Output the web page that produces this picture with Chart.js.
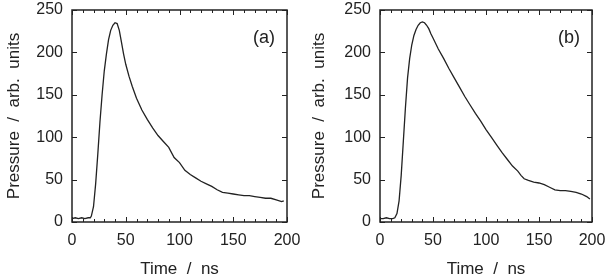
<!DOCTYPE html>
<html>
<head>
<meta charset="utf-8">
<script src="https://cdn.jsdelivr.net/npm/chart.js@4"></script>
<style>
  body { margin: 0; background: #fff; }
  #wrap { width: 610px; height: 278px; display: flex; }
  .panel { position: relative; width: 305px; height: 278px; }
</style>
</head>
<body>
<div id="wrap">
  <div class="panel"><canvas id="chartA" width="305" height="278"></canvas></div>
  <div class="panel"><canvas id="chartB" width="305" height="278"></canvas></div>
</div>
<script>
// panel (a)
const timeA = [0, 3, 6, 9, 12, 15, 17, 18, 20, 22, 24, 26, 28, 30, 32, 34, 36, 38, 40, 42, 44, 46, 48, 50, 53, 56, 60, 65, 70, 75, 80, 85, 90, 95, 100, 105, 110, 115, 120, 125, 130, 135, 140, 145, 150, 155, 160, 165, 170, 175, 180, 185, 190, 195, 197];
const pressureA = [4, 5, 4, 5, 4, 5, 5, 7, 18, 45, 80, 118, 150, 178, 198, 215, 226, 232, 235, 234, 226, 212, 198, 186, 172, 160, 146, 132, 121, 111, 102, 95, 88, 76, 70, 61, 56, 52, 48, 45, 42, 38, 35, 34, 33, 32, 31, 31, 30, 29, 28, 28, 26, 24, 25];

// panel (b)
const timeB = [0, 3, 6, 9, 12, 14, 16, 18, 20, 22, 24, 26, 28, 30, 32, 34, 36, 38, 40, 42, 44, 46, 48, 50, 55, 60, 65, 70, 75, 80, 85, 90, 95, 100, 105, 110, 115, 120, 125, 130, 133, 136, 140, 145, 150, 155, 160, 165, 170, 175, 180, 185, 190, 195, 198];
const pressureB = [4, 4, 5, 4, 4, 5, 10, 25, 55, 95, 135, 170, 193, 209, 220, 227, 232, 235, 236, 235, 232, 228, 222, 217, 204, 193, 181, 170, 159, 148, 138, 128, 119, 109, 100, 91, 82, 74, 66, 60, 55, 51, 49, 47, 46, 44, 41, 38, 37, 37, 36, 35, 33, 30, 27];

const xTicks = [0, 50, 100, 150, 200];
const yTicks = [0, 50, 100, 150, 200, 250];

const ink = "#222";
const tickFont = { family: "Liberation Sans", size: 16 };
const titleFont = { family: "Liberation Sans", size: 17 };

// frame + inward ticks, like the original plot
const framePlugin = {
    id: "frame",
    afterDraw(chart) {
        const ctx = chart.ctx;
        const a = chart.chartArea;
        const xs = chart.scales.x;
        const ys = chart.scales.y;
        ctx.save();
        ctx.strokeStyle = ink;
        ctx.lineWidth = 1.5;
        ctx.strokeRect(a.left, a.top, a.right - a.left, a.bottom - a.top);
        ctx.lineWidth = 1;
        ctx.beginPath();
        for (let v = xs.min; v <= xs.max; v += 10) {
            const px = Math.round(xs.getPixelForValue(v)) + 0.5;
            const len = (v % 50 == 0) ? 5 : 3;
            ctx.moveTo(px, a.bottom); ctx.lineTo(px, a.bottom - len);
            ctx.moveTo(px, a.top); ctx.lineTo(px, a.top + len);
        }
        yTicks.forEach(v => {
            const py = Math.round(ys.getPixelForValue(v)) + 0.5;
            ctx.moveTo(a.left, py); ctx.lineTo(a.left + 5, py);
            ctx.moveTo(a.right, py); ctx.lineTo(a.right - 5, py);
        });
        ctx.stroke();
        ctx.fillStyle = ink;
        ctx.font = "18px 'Liberation Sans'";
        ctx.textAlign = "center";
        ctx.textBaseline = "middle";
        ctx.fillText(chart.options.plugins.frame.tag, a.right - 23, a.top + 28);
        ctx.restore();
    }
};

function createChart(canvas, times, values, tag, leftWidth) {
    const pts = [];
    for (let i = 0; i < times.length; i++) pts.push({ x: times[i], y: values[i] });

    return new Chart(document.getElementById(canvas), {
        type: "line",
        data: {
            datasets: [{
                data: pts,
                borderColor: ink,
                borderWidth: 1.3,
                pointRadius: 0,
                tension: 0
            }]
        },
        options: {
            responsive: false,
            animation: false,
            layout: { padding: { top: 10, right: 18, left: 0, bottom: 0 } },
            plugins: { legend: { display: false }, tooltip: { enabled: false }, frame: { tag: tag } },
            scales: {
                x: {
                    type: "linear",
                    min: 0,
                    max: 200,
                    afterBuildTicks: s => { s.ticks = xTicks.map(v => ({ value: v })); },
                    afterFit: s => { s.height = 56; s.paddingLeft = 0; s.paddingRight = 0; },
                    grid: { display: false, drawTicks: false },
                    border: { display: false },
                    ticks: { color: ink, font: tickFont, padding: 9, maxRotation: 0 },
                    title: { display: true, text: "Time  /  ns", color: ink, font: titleFont, padding: { top: -2, bottom: -2 } }
                },
                y: {
                    min: 0,
                    max: 250,
                    afterBuildTicks: s => { s.ticks = yTicks.map(v => ({ value: v })); },
                    afterFit: s => { s.width = leftWidth; s.paddingTop = 0; s.paddingBottom = 0; },
                    grid: { display: false, drawTicks: false },
                    border: { display: false },
                    ticks: { color: ink, font: tickFont, padding: 9 },
                    title: { display: true, text: "Pressure  /  arb.  units", color: ink, font: titleFont, padding: { top: 4, bottom: 0 } }
                }
            }
        },
        plugins: [framePlugin]
    });
}

createChart("chartA", timeA, pressureA, "(a)", 72);
createChart("chartB", timeB, pressureB, "(b)", 75);
</script>
</body>
</html>
